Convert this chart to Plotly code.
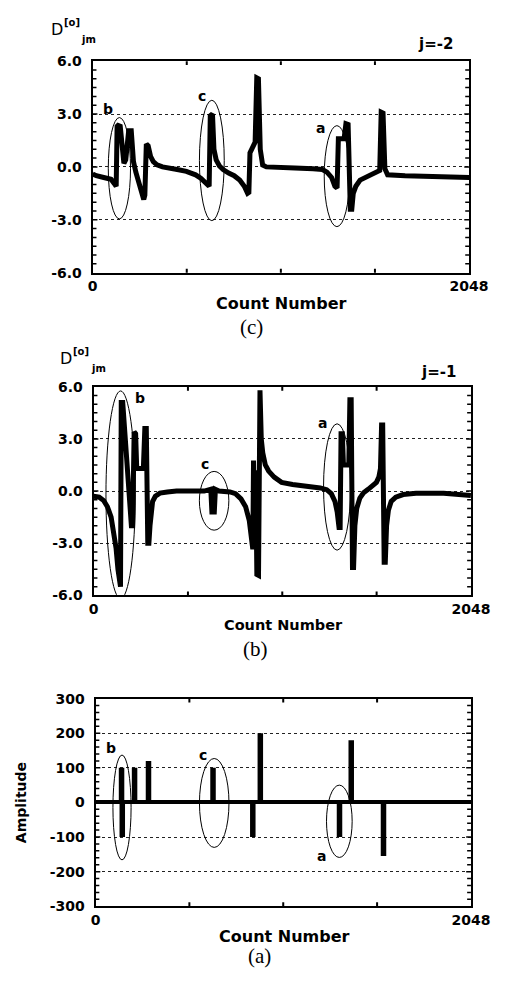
import plotly.graph_objects as go

# ---------------- data ----------------
# panel (c): D(o)_jm, j=-2
count_c = [0, 20, 60, 100, 118, 128, 133, 138, 150, 160, 170, 180, 196, 210, 222, 235, 250, 265, 278, 284,
           292, 302, 315, 330, 350, 380, 420, 460, 510, 560, 590, 610, 625, 634, 640, 652, 660, 672, 690, 710,
           740, 770, 800, 825, 843, 850, 856, 872, 884, 893, 902, 912, 925, 945, 1000, 1100, 1200, 1250, 1275, 1300,
           1318, 1330, 1337, 1368, 1378, 1390, 1402, 1410, 1418, 1432, 1455, 1490, 1535, 1562, 1570, 1580, 1590, 1605,
           1700, 1850, 2048]
d_c = [-0.4, -0.5, -0.6, -0.7, -0.95, -1.1, 2.3, 2.35, 2.3, 0.9, 0.2, 0.4, 2.05, 2.05, 0.3, -0.3, -0.8, -1.4, -1.85, -1.6,
       1.3, 1.2, 0.6, 0.3, 0.12, 0.0, -0.05, -0.15, -0.25, -0.45, -0.65, -0.85, -1.05, -1.1, 2.9, 3.0, 1.0, 0.4, 0.05, -0.15,
       -0.35, -0.5, -0.75, -1.1, -1.5, -1.45, 0.8, 1.2, 1.4, 5.05, 5.0, 1.0, 0.1, 0.0, -0.05, -0.07, -0.1, -0.15, -0.3, -0.6,
       -1.1, -1.2, 1.6, 1.6, 2.45, 2.4, -2.4, -2.4, -1.5, -1.1, -0.75, -0.55, -0.35, -0.2, 3.1, 3.05, -0.1, -0.45,
       -0.5, -0.55, -0.6]

# panel (b): D(o)_jm, j=-1
count_b = [0, 30, 55, 75, 95, 110, 122, 132, 142, 146, 150, 158, 205, 212, 220, 228, 234, 270, 278, 286,
           294, 300, 306, 312, 320, 335, 360, 400, 450, 600, 636, 642, 655, 661, 680, 740, 770, 800, 825, 845,
           858, 864, 868, 874, 880, 886, 895, 903, 910, 918, 932, 950, 980, 1020, 1080, 1150, 1230, 1265, 1290, 1310,
           1322, 1332, 1338, 1343, 1350, 1356, 1385, 1391, 1398, 1405, 1411, 1418, 1428, 1445, 1465, 1490, 1515, 1535,
           1548, 1557, 1563, 1569, 1577, 1583, 1590, 1600, 1615, 1640, 1680, 1750, 1900, 2048]
d_b = [-0.3, -0.35, -0.55, -0.9, -1.5, -2.3, -3.3, -4.5, -5.5, -5.5, 5.1, 5.1, -2.0, -2.0, 3.4, 3.3, 1.3, 1.3, 3.6, 3.6,
       -3.0, -3.0, -2.0, -1.1, -0.6, -0.3, -0.12, -0.05, 0.0, 0.0, 0.1, -1.2, -1.2, 0.1, 0.0, -0.05, -0.15, -0.45, -0.9, -1.7,
       -3.2, -3.35, 1.75, -3.0, 1.2, -4.8, -4.85, 5.8, 3.0, 2.2, 1.5, 1.15, 0.8, 0.5, 0.38, 0.3, 0.18, 0.08, -0.15, -0.6,
       -1.2, -2.1, -2.1, 3.3, 3.3, 1.5, 1.5, 5.25, 5.25, -4.4, -4.4, -2.0, -1.0, -0.4, -0.1, 0.1, 0.3, 0.5,
       0.8, 1.3, 3.8, 3.8, -4.1, -4.1, -2.0, -1.1, -0.6, -0.35, -0.2, -0.12, -0.12, -0.25]

# panel (a): amplitude sticks
stem_count = [142, 146, 213, 289, 641, 858, 899, 1331, 1395, 1571]
stem_amp = [100, -100, 100, 120, 100, -100, 200, -100, 180, -155]

ytick_d = [-6, -3, 0, 3, 6]
ytick_d_text = ["-6.0", "-3.0", "0.0", "3.0", "6.0"]
ytick_a = [-300, -200, -100, 0, 100, 200, 300]
ytick_a_text = ["-300", "-200", "-100", "0", "100", "200", "300"]
xtick_vals = [0, 512, 1024, 1536, 2048]
xtick_text = ["0", "", "", "", "2048"]

# ---------------- figure ----------------
W, H = 509, 989
def fx(p):
    return p / W
def fy(p):
    return 1 - p / H

BOLD = "DejaVu Sans"
fig = go.Figure()

fig.add_trace(go.Scatter(x=count_c, y=d_c, mode="lines", line=dict(color="black", width=5),
                         xaxis="x", yaxis="y", hoverinfo="skip"))
fig.add_trace(go.Scatter(x=count_b, y=d_b, mode="lines", line=dict(color="black", width=5),
                         xaxis="x2", yaxis="y2", hoverinfo="skip"))
sx, sy = [], []
for c, a in zip(stem_count, stem_amp):
    sx += [c, c, None]
    sy += [0, a, None]
fig.add_trace(go.Scatter(x=sx, y=sy, mode="lines", line=dict(color="black", width=5.5),
                         xaxis="x3", yaxis="y3", hoverinfo="skip"))

tickfont = dict(family=BOLD, size=14, color="black", weight="bold")

def xax(domain, anchor):
    return dict(domain=domain, anchor=anchor, range=[0, 2048], tickvals=xtick_vals, ticktext=xtick_text,
                ticks="", showline=True, linewidth=2,
                linecolor="black", mirror=True, showgrid=False, zeroline=False, tickfont=tickfont)

def yax(domain, anchor, vals, text, rng, zeroline=False):
    return dict(domain=domain, anchor=anchor, range=rng, tickvals=vals, ticktext=text,
                ticks="", showline=True, linewidth=2,
                linecolor="black", mirror=True, showgrid=True, gridcolor="#222", gridwidth=1,
                griddash="dot", zeroline=zeroline, zerolinecolor="black", zerolinewidth=3.5,
                tickfont=tickfont, ticklabelstandoff=6)

panels = [  # (xaxis id, yaxis id, x domain px, y domain px, y range, minor step)
    ("x", "y", (92, 487), (269, 54), (-6, 6), 0.5),
    ("x2", "y2", (93, 489), (597, 385), (-6, 6), 0.5),
    ("x3", "y3", (95, 489), (913, 702), (-300, 300), 20),
]

fig.update_layout(
    width=W, height=H, margin=dict(l=0, r=0, t=0, b=0),
    paper_bgcolor="white", plot_bgcolor="white", showlegend=False,
    xaxis=xax([fx(92), fx(487)], "y"),
    yaxis=yax([fy(269), fy(54)], "x", ytick_d, ytick_d_text, [-6, 6]),
    xaxis2=xax([fx(93), fx(489)], "y2"),
    yaxis2=yax([fy(597), fy(385)], "x2", ytick_d, ytick_d_text, [-6, 6]),
    xaxis3=xax([fx(95), fx(489)], "y3"),
    yaxis3=yax([fy(913), fy(702)], "x3", ytick_a, ytick_a_text, [-300, 300], zeroline=True),
)

shapes = []
# tick marks on the frame (inside), drawn as shapes
for xr, yr, (xl, xrpx), (yb, yt), (lo, hi), step in panels:
    wpx = xrpx - xl
    hpx = yb - yt
    n = int(round((hi - lo) / step))
    for i in range(1, n):
        v = lo + i * step
        ln = 5 if abs(v) < 1e-9 or (abs((v / (3 if step == 0.5 else 100)) - round(v / (3 if step == 0.5 else 100))) < 1e-9) else 4
        for x0, x1 in ((0, ln / wpx), (1, 1 - ln / wpx)):
            shapes.append(dict(type="line", xref=f"{xr} domain", yref=yr, x0=x0, x1=x1, y0=v, y1=v,
                               line=dict(color="black", width=1.5)))
    for v in xtick_vals[1:-1]:
        for y0, y1 in ((0, 4 / hpx), (1, 1 - 4 / hpx)):
            shapes.append(dict(type="line", xref=xr, yref=f"{yr} domain", x0=v, x1=v, y0=y0, y1=y1,
                               line=dict(color="black", width=2)))

# ellipses (data coordinates)
ell = [
    ("x", "y", 85, 206, -2.95, 2.8), ("x", "y", 581, 716, -3.05, 3.78), ("x", "y", 1260, 1398, -3.39, 2.34),
    ("x2", "y2", 67, 226, -6.2, 5.76), ("x2", "y2", 574, 734, -2.25, 1.13), ("x2", "y2", 1248, 1395, -3.4, 3.87),
    ("x3", "y3", 95, 194, -166, 137), ("x3", "y3", 567, 728, -130, 127), ("x3", "y3", 1260, 1400, -159, 50),
]
for xr, yr, x0, x1, y0, y1 in ell:
    shapes.append(dict(type="circle", xref=xr, yref=yr, x0=x0, x1=x1, y0=y0, y1=y1,
                       line=dict(color="black", width=1)))
fig.update_layout(shapes=shapes)

ann = []
lblfont = dict(family=BOLD, size=14, color="black", weight="bold")
for xr, yr, x, y, t in [("x", "y", 83, 3.3, "b"), ("x", "y", 595, 4.0, "c"), ("x", "y", 1239, 2.2, "a"),
                        ("x2", "y2", 252, 5.34, "b"), ("x2", "y2", 602, 1.57, "c"), ("x2", "y2", 1243, 3.92, "a"),
                        ("x3", "y3", 83, 156, "b"), ("x3", "y3", 589, 137, "c"), ("x3", "y3", 1234, -154, "a")]:
    ann.append(dict(xref=xr, yref=yr, x=x, y=y, text=t, showarrow=False, font=lblfont))

def pa(x, y, t, font, angle=0):
    ann.append(dict(xref="paper", yref="paper", x=fx(x), y=fy(y), text=t, showarrow=False, font=font,
                    xanchor="center", yanchor="middle", textangle=angle))

# D labels
pa(55, 22, "D", dict(family="DejaVu Sans", size=16, color="black"))
pa(70, 15, "[o]", dict(family="DejaVu Sans", size=10, color="black", weight="bold"))
pa(88, 32, "jm", dict(family="DejaVu Sans", size=10, color="black", weight="bold"))
pa(64, 356, "D", dict(family="DejaVu Sans", size=16, color="black"))
pa(80, 349, "[o]", dict(family="DejaVu Sans", size=10, color="black", weight="bold"))
pa(98, 366, "jm", dict(family="DejaVu Sans", size=10, color="black", weight="bold"))
pa(452, 37, "j=-2", dict(family=BOLD, size=15, color="black", weight="bold"))
pa(455, 370, "j=-1", dict(family=BOLD, size=15, color="black", weight="bold"))

pa(290, 300, "Count Number", dict(family=BOLD, size=16, color="black", weight="bold"))
pa(292, 627, "Count Number", dict(family=BOLD, size=14.5, color="black", weight="bold"))
pa(293, 944, "Count Number", dict(family=BOLD, size=16, color="black", weight="bold"))
pa(17, 808, "Amplitude", dict(family=BOLD, size=14, color="black", weight="bold"), angle=-90)

serif = dict(family="Liberation Serif", size=21, color="black")
pa(259, 324, "(c)", serif)
pa(263, 652, "(b)", serif)
pa(267, 964, "(a)", serif)

fig.update_layout(annotations=ann)
fig.write_html("out.html")
